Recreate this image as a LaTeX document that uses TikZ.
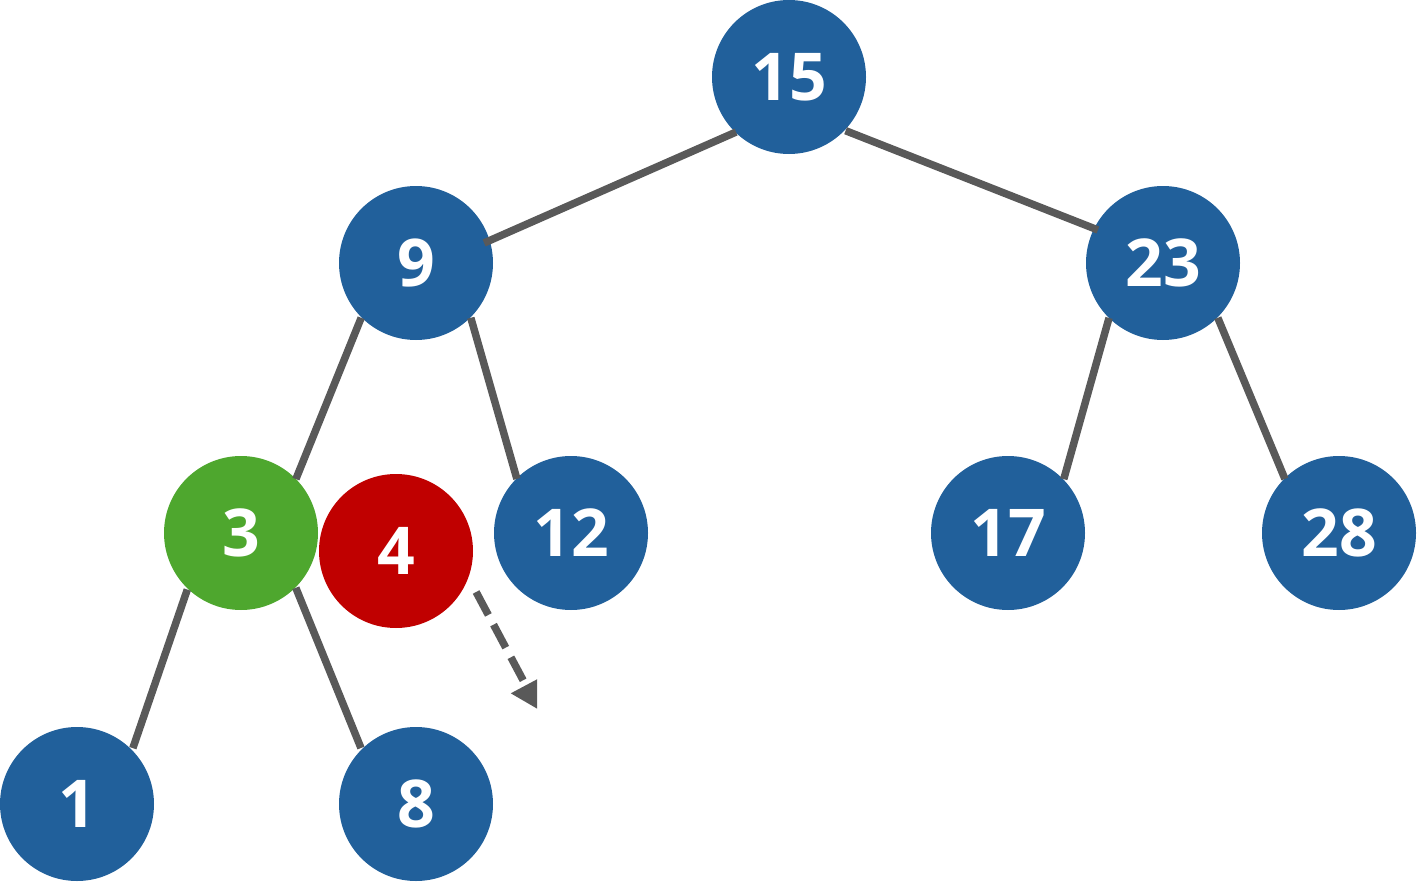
\documentclass[tikz,border=0pt]{standalone}
\usepackage{fontspec}
\setmainfont{Open Sans}
\usetikzlibrary{calc,arrows.meta}
\definecolor{nodeblue}{RGB}{33,96,155}
\definecolor{nodegreen}{RGB}{78,167,46}
\definecolor{nodered}{RGB}{192,0,0}
\definecolor{edgegray}{RGB}{89,89,89}
\tikzset{
  treenode/.style={circle, minimum size=154pt, inner sep=0pt, outer sep=0pt, fill=nodeblue,
    text=white, font=\bfseries\fontsize{66}{66}\selectfont},
  greennode/.style={treenode, fill=nodegreen},
  rednode/.style={treenode, fill=nodered},
  edge/.style={draw=edgegray, line width=7.5pt},
  moveedge/.style={draw=edgegray, line width=7.5pt, dash pattern=on 26pt off 11pt,
    -{Triangle[length=28pt,width=32pt]}}
}
\begin{document}
\begin{tikzpicture}[x=1pt,y=-1pt]
\useasboundingbox (0,0) rectangle (1417,883);
\node[treenode] (n15) at (789,77) {15};
\node[treenode] (n9) at (416,263) {9};
\node[treenode] (n23) at (1163,263) {23};
\node[greennode] (n3) at (241,533) {3};
\node[rednode] (n4) at (396,551) {4};
\node[treenode] (n12) at (571,533) {12};
\node[treenode] (n17) at (1008,533) {17};
\node[treenode] (n28) at (1339,533) {28};
\node[treenode] (n1) at (77,804) {1};
\node[treenode] (n8) at (416,804) {8};

\draw[edge] ($(n15)+(133.9:76.4)$) -- ($(n9)+(-16.4:71)$);
\draw[edge] ($(n15)+(43.5:78)$) -- ($(n23)+(206.9:73)$);
\draw[edge] ($(n9)+(135:77.5)$) -- ($(n3)+(-44.5:77)$);
\draw[edge] ($(n9)+(45:77.5)$) -- ($(n12)+(-135:76.5)$);
\draw[edge] ($(n23)+(134.5:77)$) -- ($(n17)+(-44:77.5)$);
\draw[edge] ($(n23)+(45:77.5)$) -- ($(n28)+(-135:76.5)$);
\draw[edge] ($(n3)+(133.5:78)$) -- ($(n1)+(-45:79)$);
\draw[edge] ($(n3)+(45:77.5)$) -- ($(n8)+(-134.5:78.5)$);

\coordinate (moveend) at (539,710);
\begin{scope}
\clip (0,0) rectangle (537,883);
\draw[moveedge] ($(n4)+(27.1:90)$) -- (moveend);
\end{scope}
\end{tikzpicture}
\end{document}
